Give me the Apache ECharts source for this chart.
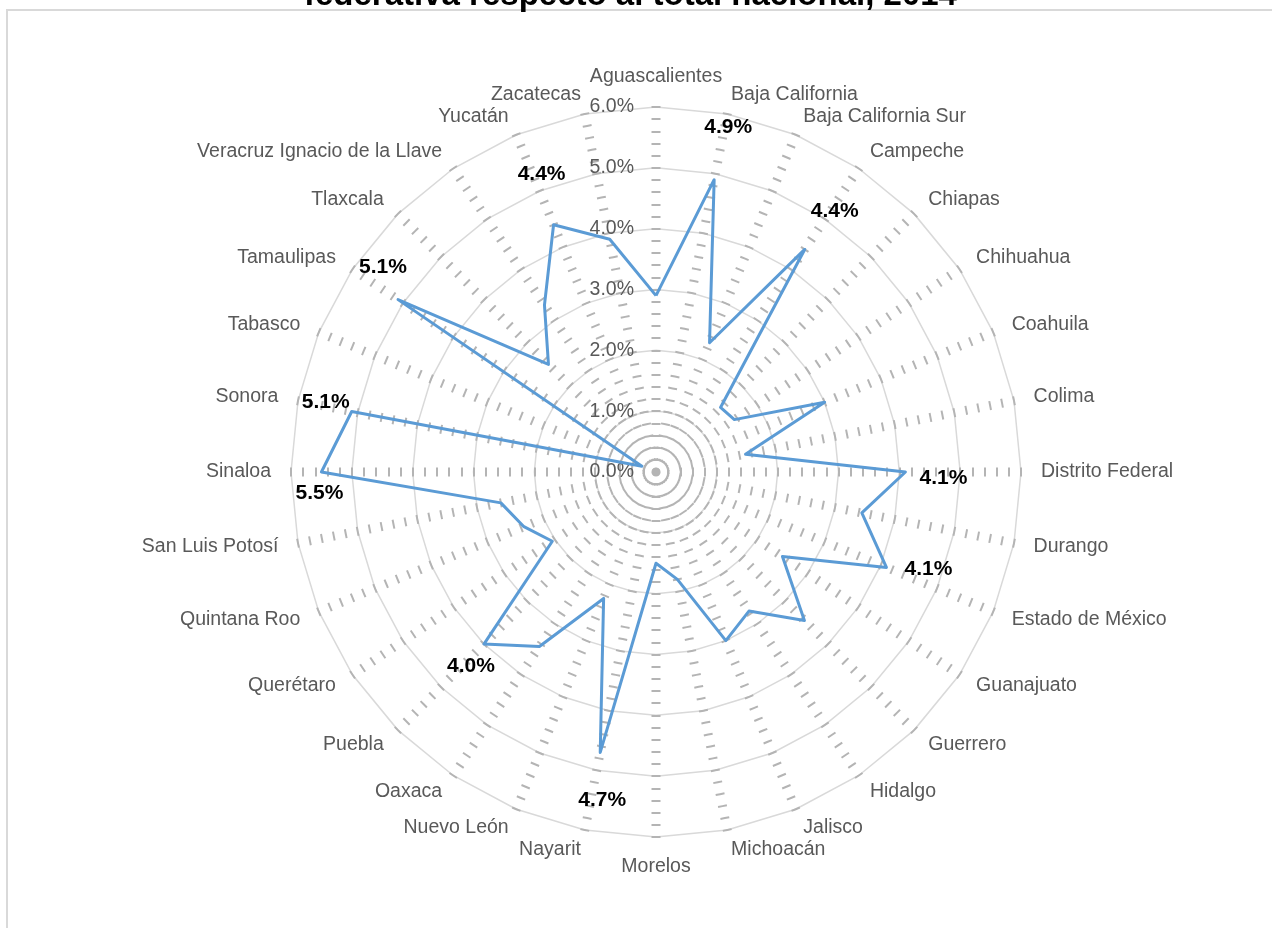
<!DOCTYPE html>
<html>
<head>
<meta charset="utf-8">
<script src="https://cdn.jsdelivr.net/npm/echarts@6/dist/echarts.min.js"></script>
<style>
  html, body { margin: 0; padding: 0; background: #fff; }
  #chart { width: 1272px; height: 928px; }
</style>
</head>
<body>
<div id="chart"></div>
<script>
const states = [
  'Aguascalientes', 'Baja California', 'Baja California Sur', 'Campeche',
  'Chiapas', 'Chihuahua', 'Coahuila', 'Colima', 'Distrito Federal', 'Durango',
  'Estado de México', 'Guanajuato', 'Guerrero', 'Hidalgo', 'Jalisco',
  'Michoacán', 'Morelos', 'Nayarit', 'Nuevo León', 'Oaxaca', 'Puebla',
  'Querétaro', 'Quintana Roo', 'San Luis Potosí', 'Sinaloa', 'Sonora',
  'Tabasco', 'Tamaulipas', 'Tlaxcala', 'Veracruz Ignacio de la Llave',
  'Yucatán', 'Zacatecas'
];
const shares = [
  2.9, 4.9, 2.3, 4.4,
  1.5, 1.55, 3.0, 1.5, 4.1, 3.45,
  4.1, 2.5, 3.45, 2.75, 3.0,
  1.8, 1.5, 4.7, 2.25, 3.45, 4.0,
  2.05, 2.35, 2.6, 5.5, 5.1,
  0.25, 5.1, 2.5, 3.3,
  4.4, 3.9
];
const axisTicks = [0, 1, 2, 3, 4, 5, 6];
const titleText = 'federativa respecto al total nacional, 2014';

// where Excel put the value labels, relative to the point
const labelShift = {
  'Baja California': [14, -52],
  'Campeche': [30, -38],
  'Distrito Federal': [38, 6],
  'Estado de México': [42, 2],
  'Nayarit': [2, 48],
  'Puebla': [-13, 22],
  'Sinaloa': [-2, 21],
  'Sonora': [-26, -9],
  'Tamaulipas': [-15, -32],
  'Yucatán': [-12, -51]
};

// echarts lays indicators counter-clockwise, the reference goes clockwise
const order = [0].concat(states.map((s, i) => i).slice(1).reverse());

const font = "'Liberation Sans', Arial, sans-serif";
const grey = '#595959';
const center = [656, 472];
const radius = 365;
const maxVal = axisTicks[axisTicks.length - 1];

const mainIndicators = order.map((i, k) => {
  const ind = { name: states[i], min: 0, max: maxVal };
  if (k === 0) {
    ind.axisLabel = { show: true };
  }
  return ind;
});
const tickIndicators = order.map(i => ({ name: '', min: 0, max: maxVal }));

// radar ticks only go to one side of the spoke, so two layers make a centred dash
function tickRadar(len) {
  return {
    center: center,
    radius: radius,
    startAngle: 90,
    shape: 'polygon',
    splitNumber: 30,
    indicator: tickIndicators,
    axisName: { show: false },
    axisLine: { show: false },
    splitLine: { show: false },
    splitArea: { show: false },
    axisLabel: { show: false },
    axisTick: {
      show: true,
      length: len,
      lineStyle: { color: '#b4b4b4', width: 2 }
    },
    silent: true
  };
}

const series = [{
  type: 'radar',
  radarIndex: 0,
  symbol: 'none',
  z: 5,
  silent: true,
  lineStyle: { color: '#5b9bd5', width: 3 },
  data: [{ value: order.map(i => shares[i]) }]
}];

// one helper series per value label, only its own vertex carries text
order.forEach((i, k) => {
  const shift = labelShift[states[i]];
  if (!shift) return;
  series.push({
    type: 'radar',
    radarIndex: 0,
    symbol: 'circle',
    symbolSize: 0.1,
    z: 6,
    silent: true,
    lineStyle: { width: 0, color: 'rgba(0,0,0,0)' },
    itemStyle: { color: 'rgba(0,0,0,0)' },
    data: [{
      value: order.map((j, m) => (m === k ? shares[i] : 0)),
      label: {
        show: true,
        position: 'inside',
        offset: shift,
        fontFamily: font,
        fontSize: 21,
        fontWeight: 'bold',
        color: '#000',
        formatter: p => (p.value > 0 ? Number(p.value).toFixed(1) + '%' : '')
      }
    }]
  });
});

const chart = echarts.init(document.getElementById('chart'));

chart.setOption({
  animation: false,
  backgroundColor: '#fff',
  title: {
    text: titleText,
    left: 299,
    top: -26,
    textStyle: {
      fontFamily: font,
      fontSize: 33,
      fontWeight: 'bold',
      color: '#000'
    }
  },
  graphic: [{
    type: 'rect',
    shape: { x: 7, y: 10, width: 1300, height: 1000 },
    style: { fill: 'none', stroke: '#d9d9d9', lineWidth: 2 },
    z: -10,
    silent: true
  }],
  radar: [
    {
      center: center,
      radius: radius,
      startAngle: 90,
      shape: 'polygon',
      splitNumber: 6,
      nameGap: 20,
      indicator: mainIndicators,
      axisName: {
        color: grey,
        fontSize: 19.5,
        fontFamily: font
      },
      axisLine: { show: false },
      axisTick: { show: false },
      splitLine: { lineStyle: { color: '#d9d9d9', width: 1.5 } },
      splitArea: { show: false },
      axisLabel: {
        show: false,
        margin: 22,
        color: grey,
        fontSize: 19.5,
        fontFamily: font,
        formatter: v => Number(v).toFixed(1) + '%'
      }
    },
    tickRadar(4.5),
    tickRadar(-4.5)
  ],
  series: series
});
</script>
</body>
</html>
